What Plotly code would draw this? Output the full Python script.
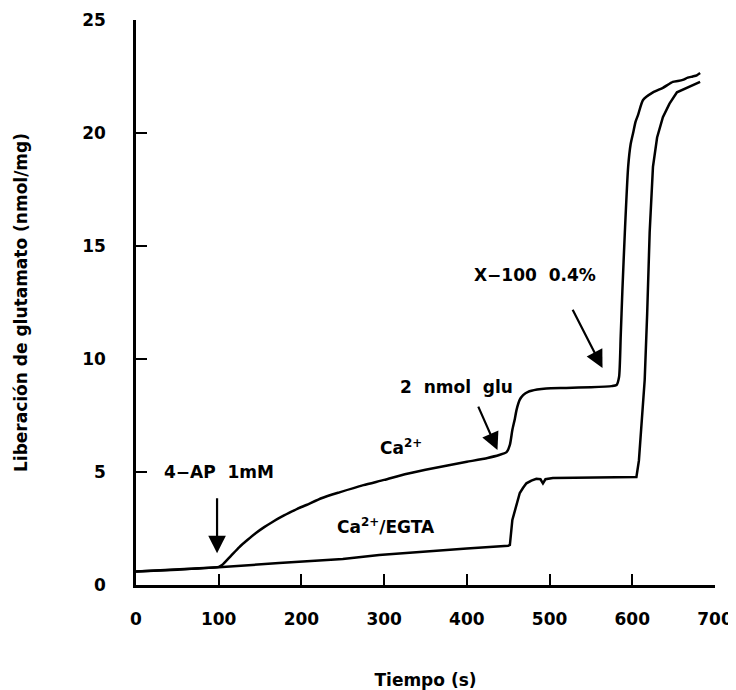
import plotly.graph_objects as go

# Ca2+ trace
t_ca = [0, 50, 100, 104, 115, 125, 135, 145, 155, 165, 175, 185, 195, 206, 225, 246, 275, 300, 325, 350, 375, 400, 425, 439, 448,
        452, 455, 458, 460, 464, 468, 474, 485, 496, 520, 550, 575, 581, 584, 586, 588, 591, 595, 598,
        601, 604, 607, 613, 625, 637, 649, 655, 661, 667, 673, 678, 682]
y_ca = [0.6, 0.68, 0.8, 0.88, 1.3, 1.68, 2.0, 2.3, 2.56, 2.79, 3.0, 3.19, 3.37, 3.54, 3.85, 4.1, 4.42, 4.65, 4.9, 5.1, 5.28, 5.45, 5.62, 5.75, 5.88,
        6.2, 6.86, 7.35, 7.74, 8.2, 8.4, 8.55, 8.65, 8.7, 8.72, 8.75, 8.8, 8.85, 9.2, 11.0, 13.0, 15.6, 18.5, 19.5,
        20.0, 20.5, 20.8, 21.46, 21.8, 22.0, 22.26, 22.3, 22.35, 22.45, 22.5, 22.55, 22.65]

# Ca2+/EGTA trace
t_egta = [0, 50, 100, 173, 250, 294, 350, 400, 450, 452, 455, 458, 460, 464, 468, 472, 478, 484, 489, 492,
          495, 504, 530, 560, 590, 605, 608, 611, 615, 618, 621, 625, 630, 637, 645, 654, 660, 666, 672, 678, 682]
y_egta = [0.6, 0.68, 0.78, 0.97, 1.15, 1.33, 1.5, 1.62, 1.74, 1.77, 2.88, 3.3, 3.6, 4.07, 4.3, 4.5, 4.62, 4.7, 4.68, 4.5,
          4.68, 4.73, 4.75, 4.76, 4.77, 4.78, 5.5, 7.2, 9.07, 12.0, 15.6, 18.5, 19.8, 20.7, 21.3, 21.8, 21.9, 22.0, 22.1, 22.2, 22.26]

x_ticks = [0, 100, 200, 300, 400, 500, 600, 700]
y_ticks = [0, 5, 10, 15, 20, 25]

FONT = "DejaVu Sans"
FS = 17

fig = go.Figure()
fig.add_trace(go.Scatter(x=t_ca, y=y_ca, mode="lines", line=dict(color="black", width=2.5, shape="spline", smoothing=0.6),
                         showlegend=False, hoverinfo="skip"))
fig.add_trace(go.Scatter(x=t_egta, y=y_egta, mode="lines", line=dict(color="black", width=2.5),
                         showlegend=False, hoverinfo="skip"))

txt = dict(family=FONT, size=FS, color="black", weight="bold")

# labels
fig.add_annotation(x=100, y=5.0, text="4−AP  1mM", showarrow=False, font=txt)
fig.add_annotation(x=320, y=6.1, text="Ca<sup>2+</sup>", showarrow=False, font=txt)
fig.add_annotation(x=302, y=2.6, text="Ca<sup>2+</sup>/EGTA", showarrow=False, font=txt)
fig.add_annotation(x=387, y=8.75, text="2  nmol  glu", showarrow=False, font=txt)
fig.add_annotation(x=482, y=13.7, text="X−100  0.4%", showarrow=False, font=txt)

# arrows
arrow = dict(showarrow=True, arrowhead=2, arrowsize=1.6, arrowwidth=2.2, arrowcolor="black",
             axref="x", ayref="y", text="")
fig.add_annotation(x=98, y=1.4, ax=98, ay=3.9, **arrow)
fig.add_annotation(x=437, y=5.97, ax=413, ay=7.96, **arrow)
fig.add_annotation(x=564, y=9.6, ax=527, ay=12.25, **arrow)

axis_common = dict(showline=True, linecolor="black", linewidth=2.5, ticks="inside", ticklen=11,
                   tickwidth=2, tickcolor="black", showgrid=False, zeroline=False, automargin=False,
                   tickfont=dict(family=FONT, size=FS, color="black", weight="bold"))

fig.update_xaxes(range=[0, 700], tickvals=x_ticks, ticktext=[str(v) for v in x_ticks],
                 ticklabelstandoff=17,
                 title=dict(text="Tiempo (s)", standoff=46,
                            font=dict(family=FONT, size=FS, color="black", weight="bold")),
                 **axis_common)
fig.update_yaxes(range=[0, 25], tickvals=y_ticks, ticktext=[str(v) for v in y_ticks],
                 ticklabelstandoff=24,
                 title=dict(text="Liberación de glutamato (nmol/mg)", standoff=51,
                            font=dict(family=FONT, size=FS, color="black", weight="bold")),
                 **axis_common)

# page body has an 8px margin, so the figure is sized to fit inside the 736x690 window
fig.update_layout(width=728, height=682, plot_bgcolor="white", paper_bgcolor="white",
                  margin=dict(l=128, r=21, t=12, b=105), showlegend=False)

fig.write_html("out.html")
